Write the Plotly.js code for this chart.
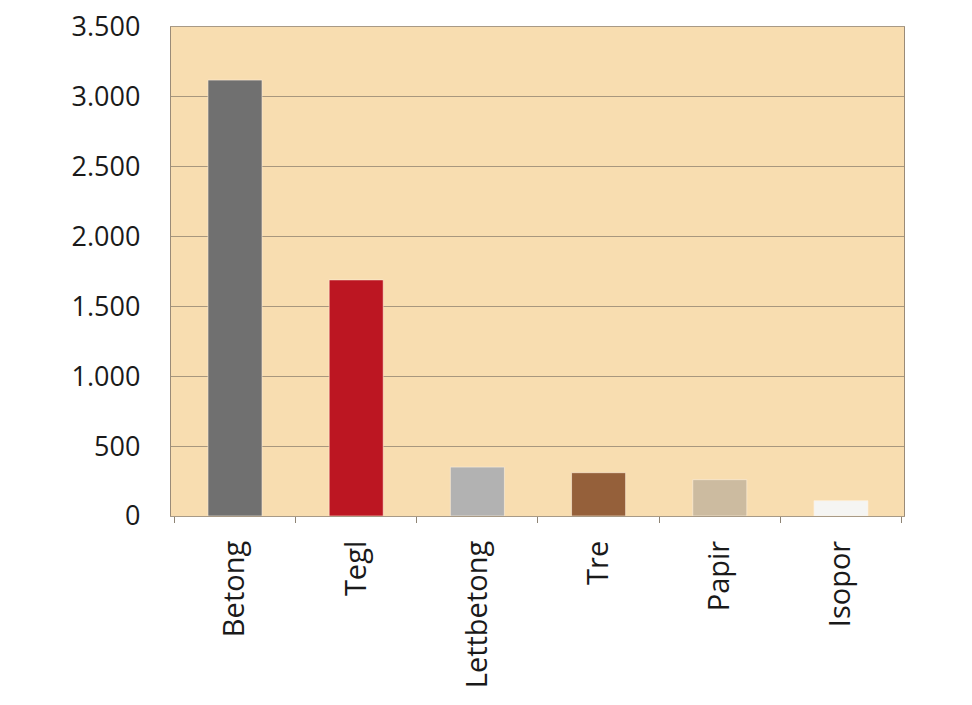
<!DOCTYPE html>
<html>
<head>
<meta charset="utf-8">
<script src="https://cdn.plot.ly/plotly-3.0.1.min.js"></script>
<style>html,body{margin:0;padding:0;background:#fff}#chart{width:972px;height:705px}</style>
</head>
<body>
<div id="chart"></div>
<script>
const categories = ["Betong", "Tegl", "Lettbetong", "Tre", "Papir", "Isopor"];
const values = [3120, 1690, 350, 310, 260, 110];
const barColors = ["#707070", "#BC1622", "#B2B2B2", "#95603A", "#CCBBA0", "#F5F5F3"];
const yTicks = [0, 500, 1000, 1500, 2000, 2500, 3000, 3500];

const trace = {
  type: "bar",
  x: categories,
  y: values,
  marker: {color: barColors, line: {color: "rgba(255,240,220,0.6)", width: 1}},
  hoverinfo: "x+y"
};

const layout = {
  width: 972,
  height: 705,
  margin: {l: 171, r: 68, t: 27, b: 189},
  paper_bgcolor: "#ffffff",
  plot_bgcolor: "#F8DDB0",
  separators: ",.",
  showlegend: false,
  bargap: 0.554,
  font: {family: "Open Sans, sans-serif", color: "#1a1a1a"},
  xaxis: {
    type: "category",
    range: [-0.528, 5.52],
    showline: true,
    linecolor: "#A89A86",
    linewidth: 1.2,
    mirror: true,
    ticks: "outside",
    tickson: "boundaries",
    ticklen: 6,
    tickcolor: "#8E8474",
    tickangle: -90,
    tickfont: {size: 29, color: "#1a1a1a"},
    ticklabelstandoff: 12,
    showgrid: false,
    zeroline: false
  },
  yaxis: {
    range: [0, 3500],
    tickvals: yTicks,
    tickformat: ",",
    showline: true,
    linecolor: "#9A8B78",
    linewidth: 1.2,
    mirror: true,
    ticks: "",
    tickfont: {size: 27, color: "#1a1a1a"},
    ticklabelstandoff: 24,
    showgrid: true,
    gridcolor: "#A8977E",
    gridwidth: 1.2,
    zeroline: false
  }
};

Plotly.newPlot("chart", [trace], layout, {displayModeBar: false, staticPlot: true});
</script>
</body>
</html>
